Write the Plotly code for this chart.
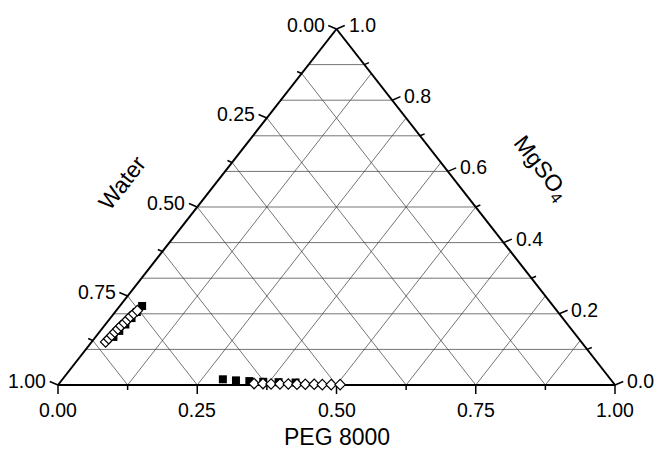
import plotly.graph_objects as go

# ---------------- data (mass fractions) ----------------
# open diamonds (calculated), PEG-rich top phase
calc_peg_top = [0.350, 0.366, 0.381, 0.397, 0.412, 0.428, 0.443, 0.459, 0.474, 0.490, 0.506]
calc_mg_top = [0.004, 0.004, 0.003, 0.003, 0.003, 0.002, 0.002, 0.002, 0.001, 0.001, 0.001]
# open diamonds (calculated), salt-rich bottom phase
calc_peg_bot = [0.025, 0.026, 0.027, 0.028, 0.029, 0.030, 0.032, 0.033, 0.034, 0.036, 0.038]
calc_mg_bot = [0.121, 0.130, 0.139, 0.148, 0.157, 0.166, 0.174, 0.183, 0.192, 0.200, 0.209]
# filled squares (experimental)
exp_peg_top = [0.288, 0.313, 0.338, 0.364, 0.392, 0.423]
exp_mg_top = [0.016, 0.013, 0.011, 0.009, 0.008, 0.007]
exp_peg_bot = [0.032, 0.034, 0.036, 0.038, 0.039, 0.040]
exp_mg_bot = [0.135, 0.152, 0.170, 0.188, 0.205, 0.222]

# axis ticks
water_ticks = [0.0, 0.125, 0.25, 0.375, 0.5, 0.625, 0.75, 0.875, 1.0]
water_labels = ["0.00", "", "0.25", "", "0.50", "", "0.75", "", "1.00"]
peg_ticks = [0.0, 0.125, 0.25, 0.375, 0.5, 0.625, 0.75, 0.875, 1.0]
peg_labels = ["0.00", "", "0.25", "", "0.50", "", "0.75", "", "1.00"]
mg_ticks = [0.0, 0.1, 0.2, 0.3, 0.4, 0.5, 0.6, 0.7, 0.8, 0.9, 1.0]
mg_labels = ["0.0", "", "0.2", "", "0.4", "", "0.6", "", "0.8", "", "1.0"]
grid_peg = [0.125, 0.25, 0.375, 0.5, 0.625, 0.75, 0.875]
grid_water = [0.125, 0.25, 0.375, 0.5, 0.625, 0.75, 0.875]
grid_mg = [0.1, 0.2, 0.3, 0.4, 0.5, 0.6, 0.7, 0.8, 0.9]

# ---------------- geometry / style ----------------
W, H = 654, 452
X0, Y0 = 58, 385      # pixel of PEG=0/MgSO4=0 corner
SX, SY = 557, 356     # pixels per unit along x and y
FONT = "Liberation Sans, Arial, Helvetica, sans-serif"
TICK_FS = 19.5
TITLE_FS = 23


def xy(peg, mg):
    return peg + mg / 2.0, mg


def seg_lists(pairs):
    xs, ys = [], []
    for (p1, m1), (p2, m2) in pairs:
        a, b = xy(p1, m1)
        c, d = xy(p2, m2)
        xs += [a, c, None]
        ys += [b, d, None]
    return xs, ys


fig = go.Figure()

# grid lines
pairs = []
for m in grid_mg:
    pairs.append(((0.0, m), (1.0 - m, m)))
for p in grid_peg:
    pairs.append(((p, 0.0), (p, 1.0 - p)))
for w in grid_water:
    pairs.append(((1.0 - w, 0.0), (0.0, 1.0 - w)))
gx, gy = seg_lists(pairs)
fig.add_trace(go.Scatter(x=gx, y=gy, mode="lines", line=dict(color="#3a3a3a", width=0.7),
                         hoverinfo="skip", showlegend=False))

# ticks
LMAJ, LMIN = 9.0, 5.0
left_dir = (-0.920, 0.392)
right_dir = (0.920, 0.392)
down_dir = (0.0, -1.0)


def tick(peg, mg, d, L):
    x, y = xy(peg, mg)
    return ((x, y), (x + L * d[0] / SX, y + L * d[1] / SY))


txs, tys = [], []
def add_tick(t):
    (a, b), (c, d) = t
    txs.extend([a, c, None]); tys.extend([b, d, None])

for w, lab in zip(water_ticks, water_labels):
    add_tick(tick(0.0, 1.0 - w, left_dir, LMAJ if lab else LMIN))
for p, lab in zip(peg_ticks, peg_labels):
    add_tick(tick(p, 0.0, down_dir, LMAJ if lab else LMIN))
for m, lab in zip(mg_ticks, mg_labels):
    add_tick(tick(1.0 - m, m, right_dir, LMAJ if lab else LMIN))
fig.add_trace(go.Scatter(x=txs, y=tys, mode="lines", line=dict(color="black", width=1.5),
                         hoverinfo="skip", showlegend=False))

# triangle edges
ex, ey = seg_lists([((0, 0), (1, 0)), ((1, 0), (0, 1)), ((0, 1), (0, 0))])
fig.add_trace(go.Scatter(x=ex, y=ey, mode="lines", line=dict(color="black", width=2),
                         hoverinfo="skip", showlegend=False))

# data
def pts(pegs, mgs):
    xs, ys = [], []
    for p, m in zip(pegs, mgs):
        a, b = xy(p, m)
        xs.append(a); ys.append(b)
    return xs, ys

sx, sy = pts(exp_peg_top + exp_peg_bot, exp_mg_top + exp_mg_bot)
fig.add_trace(go.Scatter(x=sx, y=sy, mode="markers", name="Experimental",
                         marker=dict(symbol="square", size=8, color="black",
                                     line=dict(width=0))))
dx, dy = pts(calc_peg_top + calc_peg_bot, calc_mg_top + calc_mg_bot)
fig.add_trace(go.Scatter(x=dx, y=dy, mode="markers", name="Calculated",
                         marker=dict(symbol="diamond", size=8, color="white",
                                     line=dict(width=1.2, color="black"))))

ann = []
for w, lab in zip(water_ticks, water_labels):
    if lab:
        x, y = xy(0.0, 1.0 - w)
        ann.append(dict(x=x, y=y, text=lab, xanchor="right", yanchor="middle",
                        xshift=-10, yshift=4))
for p, lab in zip(peg_ticks, peg_labels):
    if lab:
        x, y = xy(p, 0.0)
        ann.append(dict(x=x, y=y, text=lab, xanchor="center", yanchor="top", yshift=-12))
for m, lab in zip(mg_ticks, mg_labels):
    if lab:
        x, y = xy(1.0 - m, m)
        ann.append(dict(x=x, y=y, text=lab, xanchor="left", yanchor="middle",
                        xshift=10, yshift=4))
for a in ann:
    a.update(xref="x", yref="y", showarrow=False,
             font=dict(family=FONT, size=TICK_FS, color="black"))

# axis titles
tx, ty = xy(0.5, 0.0)
ann.append(dict(x=tx, y=ty, xref="x", yref="y", text="PEG 8000", showarrow=False,
                xanchor="center", yanchor="middle", yshift=-52,
                font=dict(family=FONT, size=TITLE_FS, color="black")))
ann.append(dict(x=(122 - X0) / SX, y=(Y0 - 183) / SY, xref="x", yref="y", text="Water",
                showarrow=False, textangle=-52, xanchor="center", yanchor="middle",
                font=dict(family=FONT, size=TITLE_FS, color="black")))
ann.append(dict(x=(541 - X0) / SX, y=(Y0 - 168) / SY, xref="x", yref="y",
                text="MgSO<sub>4</sub>", showarrow=False, textangle=52,
                xanchor="center", yanchor="middle",
                font=dict(family=FONT, size=TITLE_FS, color="black")))

fig.update_layout(
    width=W, height=H, autosize=False,
    margin=dict(l=0, r=0, t=0, b=0),
    paper_bgcolor="white", plot_bgcolor="white",
    showlegend=False,
    xaxis=dict(range=[-X0 / SX, (W - X0) / SX], visible=False, fixedrange=True),
    yaxis=dict(range=[-(H - Y0) / SY, Y0 / SY], visible=False, fixedrange=True),
    annotations=ann,
)

fig.write_html("out.html")
